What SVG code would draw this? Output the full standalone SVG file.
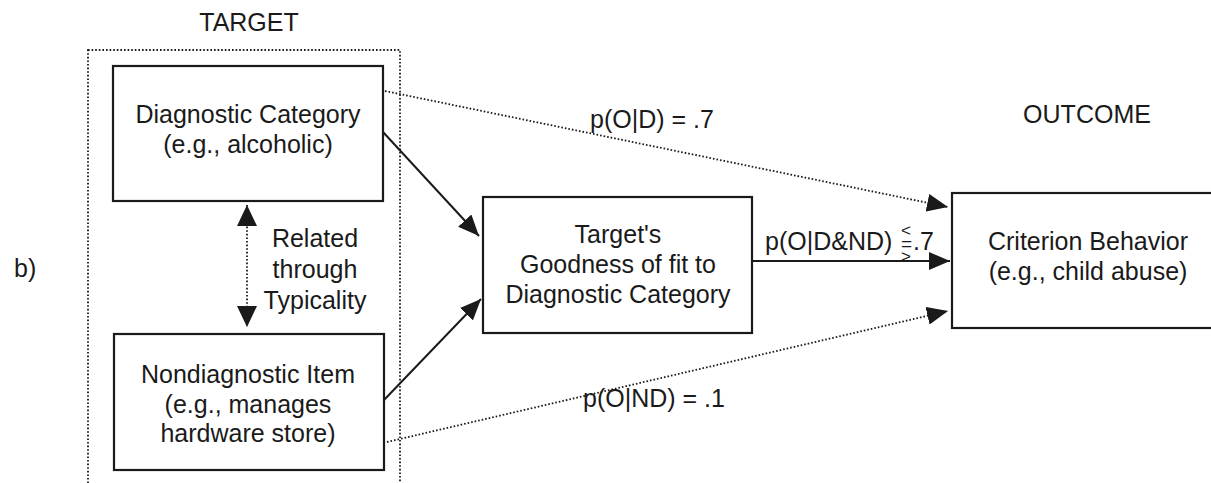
<svg xmlns="http://www.w3.org/2000/svg" width="1211" height="483" viewBox="0 0 1211 483">
<defs>
<marker id="ah" markerUnits="userSpaceOnUse" markerWidth="22" markerHeight="18" refX="21" refY="9" orient="auto">
<path d="M0,0 L21,9 L0,18 z" fill="#1a1a1a"/>
</marker>
<marker id="ahs" markerUnits="userSpaceOnUse" markerWidth="22" markerHeight="20" refX="21" refY="10" orient="auto-start-reverse">
<path d="M0,0 L21,10 L0,20 z" fill="#1a1a1a"/>
</marker>
<style>
text{font-family:"Liberation Sans",Arial,sans-serif;font-size:25px;fill:#1a1a1a;text-anchor:middle}
.box{fill:#fff;stroke:#1a1a1a;stroke-width:2.2}
.solid{fill:none;stroke:#1a1a1a;stroke-width:2}
.dot{fill:none;stroke:#1a1a1a;stroke-width:1.8;stroke-dasharray:1.6 2}
.start{text-anchor:start}
</style>
</defs>
<rect width="1211" height="483" fill="#fff"/>
<text x="249" y="31">TARGET</text>
<text x="1087" y="123">OUTCOME</text>
<text class="start" x="14" y="277">b)</text>
<rect id="target-frame" class="dot" x="88" y="50" width="312" height="450"/>
<g id="connectors">
<line class="dot" x1="385" y1="91" x2="948" y2="207" marker-end="url(#ah)"/>
<line class="dot" x1="387" y1="442" x2="948" y2="311" marker-end="url(#ah)"/>
<line class="solid" x1="383" y1="132" x2="479" y2="236" marker-end="url(#ah)"/>
<line class="solid" x1="384" y1="400" x2="481" y2="299" marker-end="url(#ah)"/>
<line class="solid" x1="752" y1="261" x2="950" y2="261" marker-end="url(#ah)"/>
<line class="dot" x1="247" y1="205" x2="247" y2="327" marker-start="url(#ahs)" marker-end="url(#ahs)"/>
<text x="315" y="247">Related</text>
<text x="315" y="278">through</text>
<text x="315" y="309">Typicality</text>
<text x="652" y="128">p(O|D) = .7</text>
<text x="654" y="407">p(O|ND) = .1</text>
<text class="start" x="765" y="250">p(O|D&amp;ND)<tspan x="901" y="236" style="font-size:17px">&lt;</tspan><tspan x="901" y="250" style="font-size:19px">=</tspan><tspan x="901" y="262" style="font-size:17px">&gt;</tspan><tspan x="913" y="250">.7</tspan></text>
</g>
<g id="diagnostic">
<rect class="box" x="113" y="66" width="270" height="135"/>
<text x="248" y="123">Diagnostic Category</text>
<text x="248" y="153">(e.g., alcoholic)</text>
</g>
<g id="nondiagnostic">
<rect class="box" x="114" y="334" width="270" height="136"/>
<text x="248" y="383">Nondiagnostic Item</text>
<text x="248" y="413">(e.g., manages</text>
<text x="248" y="442">hardware store)</text>
</g>
<g id="goodness">
<rect class="box" x="483" y="197" width="269" height="136"/>
<text x="618" y="243">Target's</text>
<text x="618" y="273">Goodness of fit to</text>
<text x="618" y="303">Diagnostic Category</text>
</g>
<g id="criterion">
<rect class="box" x="952" y="193" width="290" height="135"/>
<text x="1088" y="250">Criterion Behavior</text>
<text x="1088" y="280">(e.g., child abuse)</text>
</g>
</svg>
